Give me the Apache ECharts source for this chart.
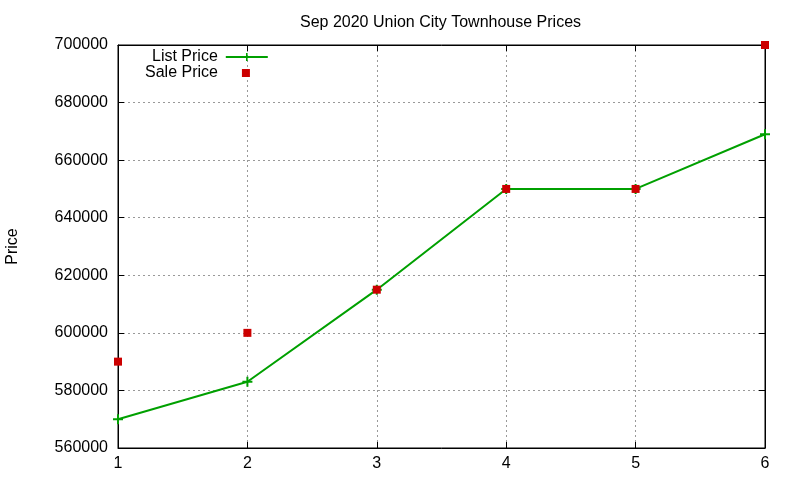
<!DOCTYPE html>
<html>
<head>
<meta charset="utf-8">
<script src="https://cdn.jsdelivr.net/npm/echarts@6/dist/echarts.min.js"></script>
<style>
  html, body { margin: 0; padding: 0; background: #fff; }
  #chart { width: 800px; height: 480px; }
</style>
</head>
<body>
<div id="chart"></div>
<script>
// ---------------------------------------------------
// Data
// ---------------------------------------------------
const months = [1, 2, 3, 4, 5, 6];
const listPrice = [570000, 583000, 615000, 650000, 650000, 669000];
const salePrice = [590000, 600000, 615000, 650000, 650000, 700000];

const pair = (xs, ys) => xs.map((x, i) => [x, ys[i]]);

const plusIcon = "path://M4,0H6V4H10V6H6V10H4V6H0V4H4Z";
const font = "Liberation Sans, Arial, sans-serif";
const green = "#00a000";
const red = "#cc0000";

const tick = { show: true, inside: true, length: 6, lineStyle: { color: "#000" } };
const grid = { lineStyle: { color: "#999", type: [2, 3] } };

const chart = echarts.init(document.getElementById("chart"));
chart.setOption({
  animation: false,
  backgroundColor: "#fff",
  textStyle: { fontFamily: font },
  title: {
    text: "Sep 2020 Union City Townhouse Prices",
    left: 295,
    top: 10,
    textStyle: { fontSize: 16, fontWeight: "normal", color: "#000", fontFamily: font }
  },
  legend: [
    {
      left: 147, top: 44, align: "right",
      itemWidth: 42, itemHeight: 10,
      textStyle: { fontSize: 16, color: "#000", fontFamily: font, padding: [0, 3, 0, 0] },
      data: ["List Price"]
    },
    {
      left: 140, top: 60, align: "right",
      itemWidth: 8, itemHeight: 8,
      textStyle: { fontSize: 16, color: "#000", fontFamily: font, padding: [0, 19, 0, 0] },
      data: [{ name: "Sale Price", icon: "rect" }]
    }
  ],
  grid: {
    left: 118, right: 35, top: 45, bottom: 32,
    outerBoundsMode: "none",
    show: true, borderColor: "#000", borderWidth: 1
  },
  xAxis: [
    {
      type: "value",
      min: 1, max: 6, interval: 1,
      axisLine: { lineStyle: { color: "#000" } },
      axisTick: tick,
      axisLabel: { color: "#000", fontSize: 16, margin: 8 },
      splitLine: grid
    },
    {
      type: "value", position: "top",
      min: 1, max: 6, interval: 1,
      axisLine: { show: true, lineStyle: { color: "#000" } },
      axisTick: tick,
      axisLabel: { show: false },
      splitLine: { show: false }
    }
  ],
  yAxis: [
    {
      type: "value",
      min: 560000, max: 700000, interval: 20000,
      name: "Price",
      nameLocation: "middle",
      nameGap: 97,
      nameTextStyle: { fontSize: 16, color: "#000" },
      axisLine: { show: true, lineStyle: { color: "#000" } },
      axisTick: tick,
      axisLabel: { color: "#000", fontSize: 16, margin: 10, formatter: v => String(v) },
      splitLine: grid
    },
    {
      type: "value", position: "right",
      min: 560000, max: 700000, interval: 20000,
      axisLine: { show: true, lineStyle: { color: "#000" } },
      axisTick: tick,
      axisLabel: { show: false },
      splitLine: { show: false }
    }
  ],
  series: [
    {
      name: "List Price",
      type: "line",
      data: pair(months, listPrice),
      symbol: plusIcon,
      symbolSize: 10,
      showAllSymbol: true,
      color: green,
      lineStyle: { width: 2, color: green },
      itemStyle: { color: green },
      z: 2
    },
    {
      name: "Sale Price",
      type: "scatter",
      data: pair(months, salePrice),
      symbol: "rect",
      symbolSize: 8,
      color: red,
      itemStyle: { color: red, opacity: 1 },
      clip: false,
      z: 3
    }
  ]
});
</script>
</body>
</html>
